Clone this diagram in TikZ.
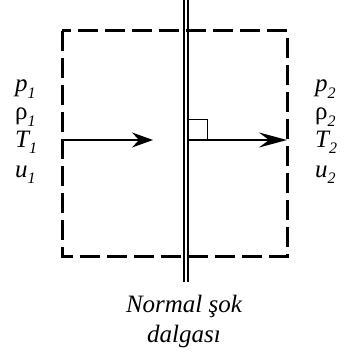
\documentclass[tikz,border=0pt]{standalone}
\usepackage{fontspec}
\setmainfont{Liberation Serif}
\usetikzlibrary{arrows.meta}
\newcommand{\qty}[2]{#1\raisebox{-0.25em}{\fontsize{16}{16}\selectfont\itshape #2}}
\begin{document}
\begin{tikzpicture}[x=1pt,y=-1pt,
  cv/.style={draw=black, line width=3pt, dash pattern=on 20pt off 7pt},
  shock/.style={line width=1.9pt},
  flow/.style={line width=1.9pt,-{Stealth[length=21pt,width=15pt,inset=7pt]}},
  flowlong/.style={line width=1.9pt,-{Stealth[length=28pt,width=15pt,inset=10pt]}},
  rabox/.style={draw, line width=1pt},
  var/.style={anchor=base west, inner sep=0pt, font=\fontsize{25}{25}\selectfont},
  capt/.style={anchor=base, inner sep=0pt, font=\fontsize{25}{25}\selectfont\itshape}]
\useasboundingbox (0,0) rectangle (343,358);
% control volume
\draw[cv] (62,31) rectangle (287,256);
% normal shock (double line)
\coordinate (s1t) at (183.7,0);   \coordinate (s1b) at (183.7,282);
\coordinate (s2t) at (187.7,0);   \coordinate (s2b) at (187.7,282);
\draw[shock] (s1t) -- (s1b);
\draw[shock] (s2t) -- (s2b);
% flow arrows
\coordinate (a1s) at (62,140);  \coordinate (a1e) at (153,140);
\coordinate (a2s) at (188,140); \coordinate (a2e) at (287,140);
\draw[flow] (a1s) -- (a1e);
\draw[flowlong] (a2s) -- (a2e);
% right-angle mark
\coordinate (r1) at (188,120); \coordinate (r2) at (207,140);
\draw[rabox] (r1) rectangle (r2);
% upstream state
\node[var] (p1) at (15,92)  {\qty{\itshape p}{1}};
\node[var] (rho1) at (15,120) {\qty{ρ}{1}};
\node[var] (T1) at (15,147) {\qty{\itshape T}{1}};
\node[var] (u1) at (15,177) {\qty{\itshape u}{1}};
% downstream state
\node[var] (p2) at (315,92)  {\qty{\itshape p}{2}};
\node[var] (rho2) at (315,120) {\qty{ρ}{2}};
\node[var] (T2) at (315,147) {\qty{\itshape T}{2}};
\node[var] (u2) at (315,177) {\qty{\itshape u}{2}};
% caption
\node[capt] (cap1) at (184,312) {Normal şok};
\node[capt] (cap2) at (184,342) {dalgası};
\end{tikzpicture}
\end{document}
